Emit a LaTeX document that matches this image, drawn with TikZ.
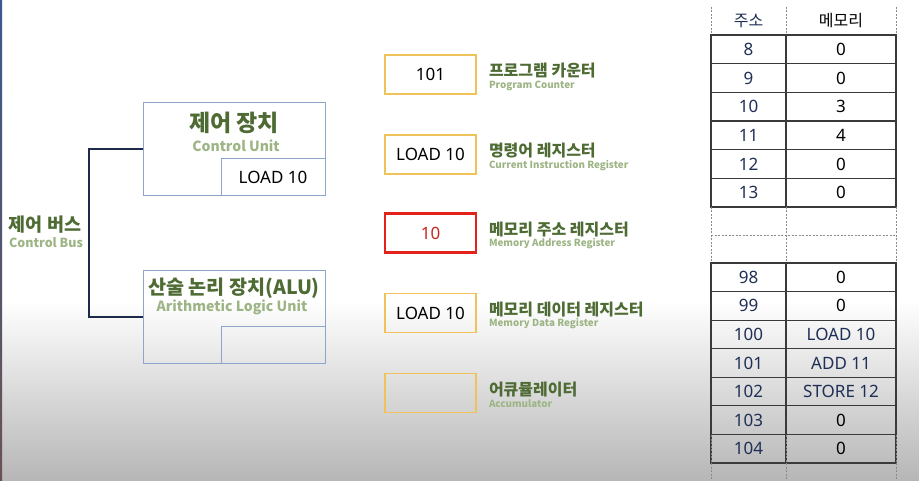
\documentclass[tikz,border=0pt]{standalone}
\usepackage{fontspec}
\setmainfont{Noto Sans}
\newfontfamily\kr{Noto Sans CJK KR}
\usetikzlibrary{positioning,calc}
\tikzset{px/.style={x=1pt,y=-1pt,every node/.style={inner sep=0pt,outer sep=0pt,anchor=center,align=center}}}
\definecolor{borda}{HTML}{3B5A8F}
\definecolor{bordab}{HTML}{6A5252}
\definecolor{fundo}{HTML}{B6B6B6}
\definecolor{caixa}{HTML}{8CA5C8}
\definecolor{barra}{HTML}{1E2B48}
\definecolor{verde}{HTML}{4E6B34}
\definecolor{verdec}{HTML}{9DB585}
\definecolor{regcor}{HTML}{F0C35A}
\definecolor{marcor}{HTML}{E3231B}
\definecolor{martxt}{HTML}{C52A1E}
\definecolor{tablin}{HTML}{3A3A3A}
\definecolor{tabpto}{HTML}{8A8A8A}
\definecolor{ender}{HTML}{1F2F55}
\tikzset{
  unidade/.style={draw=caixa,line width=1pt,minimum width=182,minimum height=93},
  subreg/.style={draw=caixa,line width=1pt,minimum width=104,minimum height=37,font=\fontsize{17}{20}\selectfont},
  titulo/.style={font=\kr\bfseries\fontsize{23}{27}\selectfont,text=verde},
  subtit/.style={font=\kr\bfseries\fontsize{14}{16}\selectfont,text=verdec},
}

\begin{document}
\begin{tikzpicture}[px,
  reg/.style={draw=regcor,line width=1.2pt,minimum width=91,minimum height=39,font=\fontsize{17}{20}\selectfont},
  regmar/.style={reg,draw=marcor,line width=2.6pt,text=martxt},
  regnome/.style={anchor=west,font=\kr\bfseries\fontsize{16}{19}\selectfont,text=verde},
  regsub/.style={anchor=west,font=\kr\bfseries\fontsize{9.8}{12}\selectfont,text=verdec},
  cel/.style={draw=tablin,line width=1.2pt,minimum height=28.6,font=\fontsize{17}{20}\selectfont},
  pont/.style={draw=tabpto,line width=0.9pt,dash pattern=on 2pt off 1.5pt},
  bus/.style={draw=barra,line width=2pt}]
  % fundo
  \useasboundingbox (0,0) rectangle (919,481);
  \fill[white] (0,0) rectangle (919,300);
  \shade[top color=white,bottom color=fundo] (0,300) rectangle (919,481);
  \shade[top color=borda,bottom color=bordab] (0,0) rectangle (2,481);
  % unidades
  \node[unidade] (cu) at (234,149.5) {};
  \node[subreg,anchor=south east] (cuir) at (cu.south east) {LOAD 10};
  \node[titulo] (cutit) at (234,123) {제어 장치};
  \node[subtit] (cusub) at (236,146) {Control Unit};
  \node[unidade] (alu) at (234,317) {};
  \node[subreg,anchor=south east] (alureg) at (alu.south east) {};
  \node[titulo,font=\kr\bfseries\fontsize{19.6}{23}\selectfont] (alutit) at (234,288) {산술 논리 장치(ALU)};
  \node[subtit] (alusub) at (232,307) {Arithmetic Logic Unit};
  % barramento
  \draw[bus] (cu.west) -- ++(-54,0) |- (alu.west);
  \node[font=\kr\bfseries\fontsize{18.5}{22}\selectfont,text=verde] (busk) at (45,225) {제어 버스};
  \node[subtit,font=\kr\bfseries\fontsize{12.5}{15}\selectfont] (buse) at (46,243) {Control Bus};
  % registradores
  \node[reg] (pc) at (430.5,74.5) {101};
  \node[reg] (cir) at (430.5,154.5) {LOAD 10};
  \node[regmar] (mar) at (430.5,233) {10};
  \node[reg] (mdr) at (430.5,313) {LOAD 10};
  \node[reg] (acc) at (430.5,393) {};
  \foreach \n/\k/\e in {pc/프로그램 카운터/Program Counter,cir/명령어 레지스터/Current Instruction Register,
      mar/메모리 주소 레지스터/Memory Address Register,mdr/메모리 데이터 레지스터/Memory Data Register,acc/어큐뮬레이터/Accumulator} {
    \node[regnome] (nome\n) at ([xshift=13pt,yshift=3.5pt]\n.east) {\k};
    \node[regsub] (sub\n) at ([xshift=13pt,yshift=-11pt]\n.east) {\e};
  }
  % memoria
  \node[font=\kr\fontsize{16}{19}\selectfont,text=ender] (hend) at (748.5,21) {주소};
  \node[font=\kr\fontsize{16}{19}\selectfont] (hmem) at (841,21) {메모리};
  \foreach \a/\m/\c [count=\i from 0] in {8/0/black,9/0/black,10/3/black,11/4/black,12/0/black,13/0/black} {
    \node[cel,minimum width=75,text=ender] (a\a) at (748.5,{35+28.67*(\i+0.5)}) {\a};
    \node[cel,minimum width=110,text=\c] (m\a) at (841,{35+28.67*(\i+0.5)}) {\m};
  }
  \foreach \a/\m/\c [count=\i from 0] in {98/0/black,99/0/black,100/LOAD 10/ender,101/ADD 11/ender,
      102/STORE 12/ender,103/0/black,104/0/black} {
    \node[cel,minimum width=75,text=ender] (a\a) at (748.5,{263+28.57*(\i+0.5)}) {\a};
    \node[cel,minimum width=110,text=\c] (m\a) at (841,{263+28.57*(\i+0.5)}) {\m};
  }
  \foreach \x in {711,786,896} {
    \draw[pont] (\x,7) -- (\x,35);
    \draw[pont] (\x,207) -- (\x,263);
    \draw[pont] (\x,435) -- (\x,481);
  }
  \draw[pont] (711,235) -- (896,235);
\end{tikzpicture}
\end{document}
